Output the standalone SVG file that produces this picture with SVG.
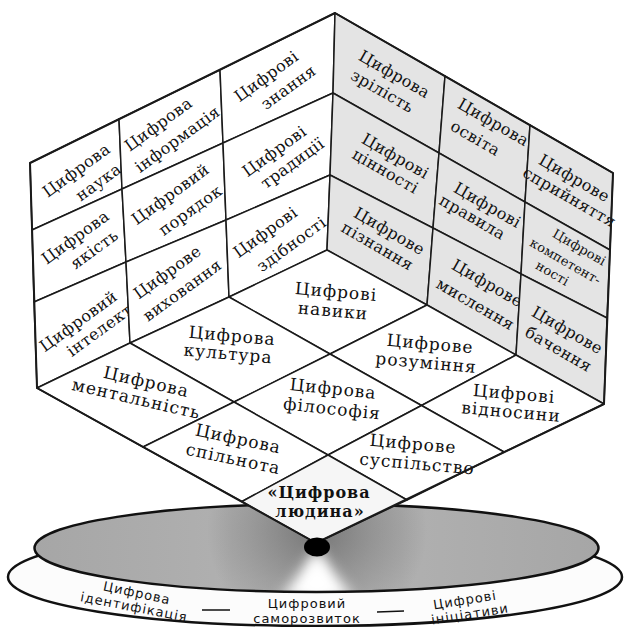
<svg xmlns="http://www.w3.org/2000/svg" width="624" height="627" viewBox="0 0 624 627">
<defs>
<style>
.c{stroke:#1a1a1a;stroke-width:1.5;stroke-linejoin:round}
.w{fill:#fff}
.g{fill:#e4e4e4}
.h{fill:#f6f6f6}
.t{font-family:"DejaVu Serif","Liberation Serif",serif;font-size:16px;fill:#111;text-anchor:middle;letter-spacing:0.5px}
.b{font-size:17px;letter-spacing:1px}
.k{font-size:13px;letter-spacing:0.2px}
.bold{font-weight:bold;font-size:16px}
.s{font-family:"DejaVu Sans","Liberation Sans",sans-serif;font-size:13px;fill:#111;text-anchor:middle;letter-spacing:1px}
.edge{fill:none;stroke:#1a1a1a;stroke-width:2;stroke-linejoin:round}
</style>
<linearGradient id="base" x1="0" y1="0" x2="1" y2="0">
<stop offset="0" stop-color="#a6a6a6"/>
<stop offset="0.35" stop-color="#b0b0b0"/>
<stop offset="0.5" stop-color="#c2c2c2"/>
<stop offset="0.65" stop-color="#b0b0b0"/>
<stop offset="1" stop-color="#a6a6a6"/>
</linearGradient>
<radialGradient id="dark" cx="317" cy="530" r="110" gradientUnits="userSpaceOnUse">
<stop offset="0" stop-color="#555" stop-opacity="0.7"/>
<stop offset="1" stop-color="#555" stop-opacity="0"/>
</radialGradient>
<clipPath id="clipIn"><ellipse cx="316.5" cy="548" rx="282" ry="44"/></clipPath>
<filter id="blur" x="-50%" y="-50%" width="200%" height="200%"><feGaussianBlur stdDeviation="7"/></filter>
</defs>

<g id="base-platform">
<ellipse cx="315" cy="577" rx="307" ry="49" fill="#fcfcfc" stroke="#111" stroke-width="2.5"/>
<ellipse cx="316.5" cy="548" rx="282" ry="44" fill="url(#base)"/>
<g clip-path="url(#clipIn)">
<rect x="30" y="500" width="580" height="100" fill="url(#dark)"/>
<polygon points="317,550 280,600 354,600" fill="#fff" filter="url(#blur)"/>
<polygon points="317,552 303,600 331,600" fill="#fff" filter="url(#blur)"/>
</g>
<ellipse cx="316.5" cy="548" rx="282" ry="44" fill="none" stroke="#111" stroke-width="2.5"/>
</g>

<g id="labels-platform">
<g id="n-identyfikatsiia">
<text class="s" transform="translate(137,593) rotate(12)" y="4.5">Цифрова</text>
<text class="s" transform="translate(134,607) rotate(11)" y="4.5">ідентифікація</text>
</g>
<g id="n-samorozvytok">
<text class="s" x="307" y="608">Цифровий</text>
<text class="s" x="307" y="623">саморозвиток</text>
</g>
<g id="n-initsiatyvy">
<text class="s" transform="translate(465,600) rotate(-9)" y="4.5">Цифрові</text>
<text class="s" transform="translate(470,614) rotate(-9)" y="4.5">ініціативи</text>
</g>
</g>

<g id="connectors">
<line x1="202" y1="610" x2="230" y2="610" stroke="#111" stroke-width="1.5"/>
<line x1="377" y1="612" x2="404" y2="611" stroke="#111" stroke-width="1.5"/>
</g>

<g id="left-face">
<g id="n-nauka"><polygon class="c w" points="30,163 119,119 122,189 32,230"/>
<text class="t" transform="translate(77,171) rotate(-36)" y="4.5">Цифрова</text>
<text class="t" transform="translate(99,183) rotate(-36)" y="4.5">наука</text></g>
<g id="n-informatsiia"><polygon class="c w" points="119,119 220,70 223,143 122,189"/>
<text class="t" transform="translate(159,125) rotate(-36)" y="4.5">Цифрова</text>
<text class="t" transform="translate(178,140) rotate(-36)" y="4.5">інформація</text></g>
<g id="n-znannia"><polygon class="c w" points="220,70 335,13 333,93 223,143"/>
<text class="t" transform="translate(267,77) rotate(-36)" y="4.5">Цифрові</text>
<text class="t" transform="translate(289,88) rotate(-36)" y="4.5">знання</text></g>
<g id="n-yakist"><polygon class="c w" points="32,230 122,189 126,262 34,302"/>
<text class="t" transform="translate(76,238) rotate(-36)" y="4.5">Цифрова</text>
<text class="t" transform="translate(95,250) rotate(-36)" y="4.5">якість</text></g>
<g id="n-poriadok"><polygon class="c w" points="122,189 223,143 226,220 126,262"/>
<text class="t" transform="translate(171,195) rotate(-36)" y="4.5">Цифровий</text>
<text class="t" transform="translate(191,211) rotate(-36)" y="4.5">порядок</text></g>
<g id="n-tradytsii"><polygon class="c w" points="223,143 333,93 330,175 226,220"/>
<text class="t" transform="translate(275,152) rotate(-36)" y="4.5">Цифрові</text>
<text class="t" transform="translate(293,164) rotate(-36)" y="4.5">традиції</text></g>
<g id="n-intelekt"><polygon class="c w" points="34,302 126,262 130,343 37,388"/>
<text class="t" transform="translate(79,322) rotate(-36)" y="4.5">Цифровий</text>
<text class="t" transform="translate(100,331) rotate(-36)" y="4.5">інтелект</text></g>
<g id="n-vykhovannia"><polygon class="c w" points="126,262 226,220 229,297 130,343"/>
<text class="t" transform="translate(168,273) rotate(-36)" y="4.5">Цифрове</text>
<text class="t" transform="translate(183,291) rotate(-36)" y="4.5">виховання</text></g>
<g id="n-zdibnosti"><polygon class="c w" points="226,220 330,175 327,250 229,297"/>
<text class="t" transform="translate(266,233) rotate(-36)" y="4.5">Цифрові</text>
<text class="t" transform="translate(292,245) rotate(-36)" y="4.5">здібності</text></g>
</g>

<g id="right-face">
<g id="n-zrilist"><polygon class="c g" points="335,13 445,76 439,153 333,93"/>
<text class="t" transform="translate(394,75) rotate(30)" y="4.5">Цифрова</text>
<text class="t" transform="translate(382,92) rotate(30)" y="4.5">зрілість</text></g>
<g id="n-osvita"><polygon class="c g" points="445,76 530,125 525,202 439,153"/>
<text class="t" transform="translate(493,123) rotate(30)" y="4.5">Цифрова</text>
<text class="t" transform="translate(475,139) rotate(30)" y="4.5">освіта</text></g>
<g id="n-spryiniattia"><polygon class="c g" points="530,125 613,173 610,250 525,202"/>
<text class="t" transform="translate(574,179) rotate(30)" y="4.5">Цифрове</text>
<text class="t" transform="translate(569,198) rotate(30)" y="4.5">сприйняття</text></g>
<g id="n-tsinnosti"><polygon class="c g" points="333,93 439,153 433,228 330,175"/>
<text class="t" transform="translate(395,157) rotate(30)" y="4.5">Цифрові</text>
<text class="t" transform="translate(385,172) rotate(30)" y="4.5">цінності</text></g>
<g id="n-pravyla"><polygon class="c g" points="439,153 525,202 521,274 433,228"/>
<text class="t" transform="translate(487,206) rotate(30)" y="4.5">Цифрові</text>
<text class="t" transform="translate(472,218) rotate(30)" y="4.5">правила</text></g>
<g id="n-kompetentnosti"><polygon class="c g" points="525,202 610,250 607,318 521,274"/>
<text class="t k" transform="translate(579,248) rotate(30)" y="3.6">Цифрові</text>
<text class="t k" transform="translate(565,262) rotate(30)" y="3.6">компетент-</text>
<text class="t k" transform="translate(552,274) rotate(30)" y="3.6">ності</text></g>
<g id="n-piznannia"><polygon class="c g" points="330,175 433,228 427,305 327,250"/>
<text class="t" transform="translate(389,232) rotate(30)" y="4.5">Цифрове</text>
<text class="t" transform="translate(377,247) rotate(30)" y="4.5">пізнання</text></g>
<g id="n-myslennia"><polygon class="c g" points="433,228 521,274 516,355 427,305"/>
<text class="t" transform="translate(487,284) rotate(30)" y="4.5">Цифрове</text>
<text class="t" transform="translate(475,305) rotate(30)" y="4.5">мислення</text></g>
<g id="n-bachennia"><polygon class="c g" points="521,274 607,318 604,404 516,355"/>
<text class="t" transform="translate(567,331) rotate(30)" y="4.5">Цифрове</text>
<text class="t" transform="translate(558,350) rotate(30)" y="4.5">бачення</text></g>
</g>

<g id="bottom-face">
<g id="n-navyky"><polygon class="c w" points="327,250 427,305 330,354 229,297"/>
<text class="t b" transform="translate(336,293) rotate(5)" y="4.5">Цифрові</text>
<text class="t b" transform="translate(333,312) rotate(5)" y="4.5">навики</text></g>
<g id="n-rozuminnia"><polygon class="c w" points="427,305 516,355 421.5,405.5 330,354"/>
<text class="t b" transform="translate(430,345) rotate(5)" y="4.5">Цифрове</text>
<text class="t b" transform="translate(426,364) rotate(5)" y="4.5">розуміння</text></g>
<g id="n-vidnosyny"><polygon class="c w" points="516,355 604,404 504,452 421.5,405.5"/>
<text class="t b" transform="translate(514,395) rotate(5)" y="4.5">Цифрові</text>
<text class="t b" transform="translate(511,413) rotate(5)" y="4.5">відносини</text></g>
<g id="n-kultura"><polygon class="c w" points="229,297 330,354 234,402 130,343"/>
<text class="t b" transform="translate(232,337) rotate(5)" y="4.5">Цифрова</text>
<text class="t b" transform="translate(228,355) rotate(5)" y="4.5">культура</text></g>
<g id="n-filosofiia"><polygon class="c w" points="330,354 421.5,405.5 328,455 234,402"/>
<text class="t b" transform="translate(333,390) rotate(6)" y="4.5">Цифрова</text>
<text class="t b" transform="translate(332,410) rotate(6)" y="4.5">філософія</text></g>
<g id="n-suspilstvo"><polygon class="c w" points="421.5,405.5 504,452 407,500 328,455"/>
<text class="t b" transform="translate(413,445) rotate(5)" y="4.5">Цифрове</text>
<text class="t b" transform="translate(417,465) rotate(5)" y="4.5">суспільство</text></g>
<g id="n-mentalnist"><polygon class="c w" points="130,343 234,402 143,447 37,388"/>
<text class="t b" transform="translate(146,383) rotate(13)" y="4.5">Цифрова</text>
<text class="t b" transform="translate(136,400) rotate(13)" y="4.5">ментальність</text></g>
<g id="n-spilnota"><polygon class="c w" points="234,402 328,455 242,501.5 143,447"/>
<text class="t b" transform="translate(238,440) rotate(12)" y="4.5">Цифрова</text>
<text class="t b" transform="translate(233,460) rotate(12)" y="4.5">спільнота</text></g>
<g id="n-liudyna"><polygon class="c h" points="328,455 407,500 316,543 242,501.5"/>
<text class="t b bold" x="319" y="498">«Цифрова</text>
<text class="t b bold" x="320" y="517">людина»</text></g>
</g>

<g id="cube-outline">
<polygon class="edge" points="30,163 335,13 613,173 604,404 316,543 37,388"/>
</g>

<g id="n-centre-dot">
<ellipse cx="317" cy="547" rx="13" ry="9.5" fill="#000"/>
</g>
</svg>
